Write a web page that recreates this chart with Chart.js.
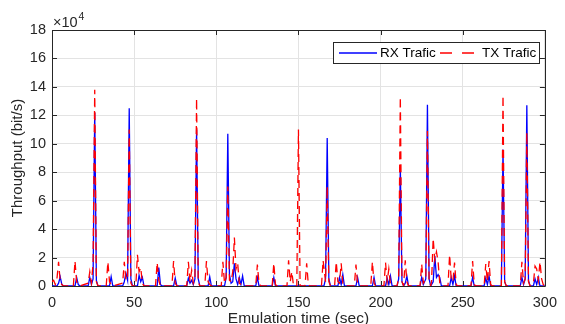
<!DOCTYPE html>
<html>
<head>
<meta charset="utf-8">
<title>Throughput</title>
<script src="https://cdn.jsdelivr.net/npm/chart.js@4.4.1/dist/chart.umd.min.js"></script>
<style>
  html, body { margin: 0; padding: 0; background: #fff; }
  #wrap { width: 565px; height: 324px; }
</style>
</head>
<body>
<div id="wrap"><canvas id="chart" width="565" height="324"></canvas></div>
<script>
/* ======================================================
   Throughput RX / TX vs emulation time
   estilo figura MATLAB (caja, ticks hacia dentro)
====================================================== */

// RX (blue, solid): time in s, throughput in bit/s
const rxTime = [
  0, 3, 4, 5, 6, 7, 14, 15, 16, 17, 22, 23, 24, 25, 26, 27, 28, 35, 36, 37,
  43, 44, 45, 46, 47, 48, 49, 52, 53, 54, 55, 56, 64, 65, 66, 67, 74, 75, 76,
  82, 83, 84, 85, 86, 87, 88, 89, 90, 95, 96, 97, 105, 106, 107, 108, 109, 110,
  111, 112, 113, 114, 115, 116, 117, 124, 125, 126, 134, 135, 136,
  165.5, 166.5, 167.5, 168.5, 169.5, 174, 175, 176, 177, 178, 185, 186, 187, 195, 196, 197,
  203, 204, 205, 206, 207, 210, 211, 212, 213, 214, 215, 216, 217, 224, 225, 226,
  227.5, 228.5, 229.5, 230.5, 232, 233, 234, 235, 236, 237, 242, 243, 244, 245, 246,
  255, 256, 257, 263, 264, 265, 266, 267, 273.5, 274.5, 275.5, 276.5,
  285, 286, 287, 288, 289, 290, 291, 293, 294, 295, 296, 297, 300
];
const rxRate = [
  0, 0, 2000, 6500, 1000, 0, 0, 6000, 1000, 0, 0, 6000, 1000, 5000, 122000, 4000, 0, 0, 6500, 0,
  0, 3000, 9000, 4000, 125000, 5000, 0, 0, 7500, 3000, 6000, 0, 0, 13000, 1000, 0, 0, 5500, 0,
  0, 5500, 2000, 4000, 1000, 5000, 110000, 5000, 0, 0, 6500, 0, 0, 6000, 107000, 8000, 2000, 3000,
  16000, 5000, 1000, 6000, 1000, 7000, 0, 0, 6000, 0, 0, 6000, 0,
  0, 5000, 104000, 5000, 0, 0, 6000, 1000, 8000, 0, 0, 6000, 0, 0, 6000, 0,
  0, 5500, 1000, 7000, 0, 0, 5000, 84000, 3000, 0, 2000, 7000, 0, 0, 6000, 1000,
  5000, 127500, 5000, 0, 3000, 21000, 6000, 8000, 6000, 0, 0, 6000, 1000, 7000, 0,
  0, 6000, 0, 0, 5500, 1000, 7000, 0, 0, 96000, 3000, 0,
  0, 6000, 1000, 5000, 127000, 4000, 0, 0, 5000, 1000, 6000, 0, 0
];

// TX (red, dashed)
const txTime = [
  0, 1, 2, 3, 4, 5, 6, 7, 13, 14, 15, 16, 17, 22, 23, 24, 25, 26, 27, 28, 33, 34, 35, 36, 37,
  43, 44, 45, 46, 47, 48, 49, 51, 52, 53, 54, 55, 56, 63, 64, 65, 66, 73, 74, 75, 76,
  82, 83, 84, 85, 86, 87, 88, 89, 90, 93, 94, 95, 96, 97, 103, 104, 105, 106, 107, 108,
  109, 110, 111, 112, 113, 114, 115, 116, 124, 125, 126, 127, 134, 135, 136, 137,
  143, 144, 145, 146, 147, 149, 150, 151, 154, 155, 156, 157, 164, 165, 166.5, 167.5, 168.5, 169.5,
  172, 173, 174, 175, 176, 177, 178, 184, 185, 186, 187, 194, 195, 196, 197,
  202, 203, 204, 205, 206, 207, 210, 211, 212, 213, 214, 215, 216, 217, 224, 225, 226,
  227.5, 228.5, 229.5, 230.5, 231, 232, 233, 234, 235, 236, 237, 241, 242, 243, 244, 245, 246, 247,
  255, 256, 257, 258, 263, 264, 265, 266, 267, 268, 273.5, 274.5, 275.5, 276.5,
  285, 286, 287, 288, 289, 290, 291, 293, 294, 295, 296, 297, 298, 299, 300
];
const txRate = [
  3000, 4000, 1000, 5000, 17000, 3000, 1000, 0, 0, 17500, 3000, 1000, 0, 2000, 10000, 2000, 16000, 138000, 3000, 0, 0, 17000, 3000, 1000, 0,
  2000, 17000, 4000, 6000, 110000, 2000, 0, 0, 22000, 10000, 13000, 2000, 0, 0, 16500, 4000, 0, 0, 17500, 2000, 0,
  0, 17000, 3000, 11000, 2000, 6000, 132000, 3000, 0, 0, 17500, 3000, 1000, 0, 0, 17000, 2000, 6000, 70000, 4000,
  3000, 10000, 34000, 12000, 16000, 2000, 1000, 0, 0, 15000, 2000, 0, 0, 16000, 1000, 0,
  0, 18000, 3000, 10000, 0, 0, 110000, 0, 0, 16000, 1000, 0, 0, 18000, 3000, 70000, 3000, 0,
  0, 17000, 3000, 2000, 16000, 2000, 0, 0, 15000, 1000, 0, 0, 17000, 2000, 0,
  0, 16500, 3000, 12000, 1000, 0, 0, 6000, 133000, 3000, 0, 18000, 3000, 0, 0, 15500, 2000,
  5000, 109000, 3000, 0, 3000, 33500, 18000, 24000, 17000, 2000, 0, 0, 22000, 4000, 3000, 16500, 1000, 0,
  0, 17500, 1000, 0, 0, 15500, 3000, 17500, 1000, 0, 0, 134000, 3000, 0,
  0, 17000, 2000, 5000, 108000, 3000, 0, 2000, 14000, 12000, 4000, 17000, 5000, 1000, 0
];

const xTicks = [0, 50, 100, 150, 200, 250, 300];
const yTicks = [0, 20000, 40000, 60000, 80000, 100000, 120000, 140000, 160000, 180000];

const seriesNames = ['RX Trafic', 'TX Trafic'];

const INK = '#262626';
const FONT = "'Liberation Sans', Arial, Helvetica, sans-serif";

const toPoints = (xs, ys) => xs.map((x, i) => ({ x, y: ys[i] }));

// caja + ticks hacia dentro (por debajo de las líneas, como axes layer bottom)
const matlabFrame = {
  id: 'matlabFrame',
  beforeDatasetsDraw(chart) {
    const { ctx, chartArea: a, scales } = chart;
    ctx.save();
    ctx.strokeStyle = INK;
    ctx.lineWidth = 1;
    ctx.beginPath();
    ctx.rect(Math.round(a.left) + 0.5, Math.round(a.top) + 0.5,
             Math.round(a.right - a.left), Math.round(a.bottom - a.top));
    const len = 5;
    xTicks.forEach(v => {
      const px = Math.round(scales.x.getPixelForValue(v)) + 0.5;
      ctx.moveTo(px, a.bottom); ctx.lineTo(px, a.bottom - len);
      ctx.moveTo(px, a.top); ctx.lineTo(px, a.top + len);
    });
    yTicks.forEach(v => {
      const py = Math.round(scales.y.getPixelForValue(v)) + 0.5;
      ctx.moveTo(a.left, py); ctx.lineTo(a.left + len, py);
      ctx.moveTo(a.right, py); ctx.lineTo(a.right - len, py);
    });
    ctx.stroke();
    ctx.restore();
  },
  afterDraw(chart) {
    const { ctx, chartArea: a } = chart;
    ctx.save();

    // exponente del eje y
    ctx.fillStyle = INK;
    ctx.textBaseline = 'alphabetic';
    ctx.textAlign = 'left';
    ctx.font = `14.5px ${FONT}`;
    ctx.fillText('\u00d710', a.left + 1, a.top - 3);
    const w = ctx.measureText('\u00d710').width;
    ctx.font = `10.5px ${FONT}`;
    ctx.fillText('4', a.left + 1 + w + 1, a.top - 10);

    // leyenda
    const bx = 333.5, by = 42.5, bw = 206, bh = 21;
    ctx.fillStyle = '#fff';
    ctx.fillRect(bx, by, bw, bh);
    ctx.strokeStyle = INK;
    ctx.lineWidth = 1;
    ctx.strokeRect(bx, by, bw, bh);

    const ly = by + bh / 2;
    ctx.lineWidth = 1.3;
    ctx.strokeStyle = 'rgb(0,0,255)';
    ctx.beginPath(); ctx.moveTo(339, ly); ctx.lineTo(377, ly); ctx.stroke();
    ctx.strokeStyle = 'rgb(255,0,0)';
    ctx.setLineDash([12, 10]);
    ctx.beginPath(); ctx.moveTo(440, ly); ctx.lineTo(474, ly); ctx.stroke();
    ctx.setLineDash([]);

    ctx.fillStyle = '#000';
    ctx.font = `13.5px ${FONT}`;
    ctx.textBaseline = 'middle';
    ctx.fillText(seriesNames[0], 380, ly + 0.5);
    ctx.fillText(seriesNames[1], 482, ly + 0.5);
    ctx.restore();
  }
};

Chart.defaults.font.family = FONT;
Chart.defaults.color = INK;

new Chart(document.getElementById('chart'), {
  type: 'line',
  data: {
    datasets: [
      {
        label: seriesNames[0],
        data: toPoints(rxTime, rxRate),
        borderColor: 'rgb(0,0,255)',
        borderWidth: 1.3,
        pointRadius: 0,
        tension: 0,
        order: 1
      },
      {
        label: seriesNames[1],
        data: toPoints(txTime, txRate),
        borderColor: 'rgb(255,0,0)',
        borderWidth: 1.3,
        borderDash: [8, 5],
        pointRadius: 0,
        tension: 0,
        order: 0
      }
    ]
  },
  options: {
    responsive: false,
    animation: false,
    devicePixelRatio: 1,
    layout: { padding: { top: 30, right: 15, left: 0, bottom: 0 } },
    plugins: {
      legend: { display: false },
      tooltip: { enabled: false }
    },
    scales: {
      x: {
        type: 'linear',
        min: 0,
        max: 300,
        afterBuildTicks: s => { s.ticks = xTicks.map(v => ({ value: v })); },
        afterFit: s => { s.height = 38; },
        ticks: { font: { size: 14.5 }, color: INK, padding: 8, maxRotation: 0 },
        grid: { color: '#e3e3e3', drawTicks: false },
        border: { display: false },
        title: {
          display: true,
          text: 'Emulation time (sec)',
          color: INK,
          font: { size: 15.5 },
          padding: { top: 0, bottom: -4.5 }
        }
      },
      y: {
        type: 'linear',
        min: 0,
        max: 180000,
        afterBuildTicks: s => { s.ticks = yTicks.map(v => ({ value: v })); },
        afterFit: s => { s.width = 52; },
        ticks: {
          font: { size: 14.5 },
          color: INK,
          padding: 6,
          callback: v => v / 10000
        },
        grid: { color: '#e3e3e3', drawTicks: false },
        border: { display: false },
        title: {
          display: true,
          text: 'Throughput (bit/s)',
          color: INK,
          font: { size: 15 },
          padding: { top: 9, bottom: 0 }
        }
      }
    }
  },
  plugins: [matlabFrame]
});
</script>
</body>
</html>
